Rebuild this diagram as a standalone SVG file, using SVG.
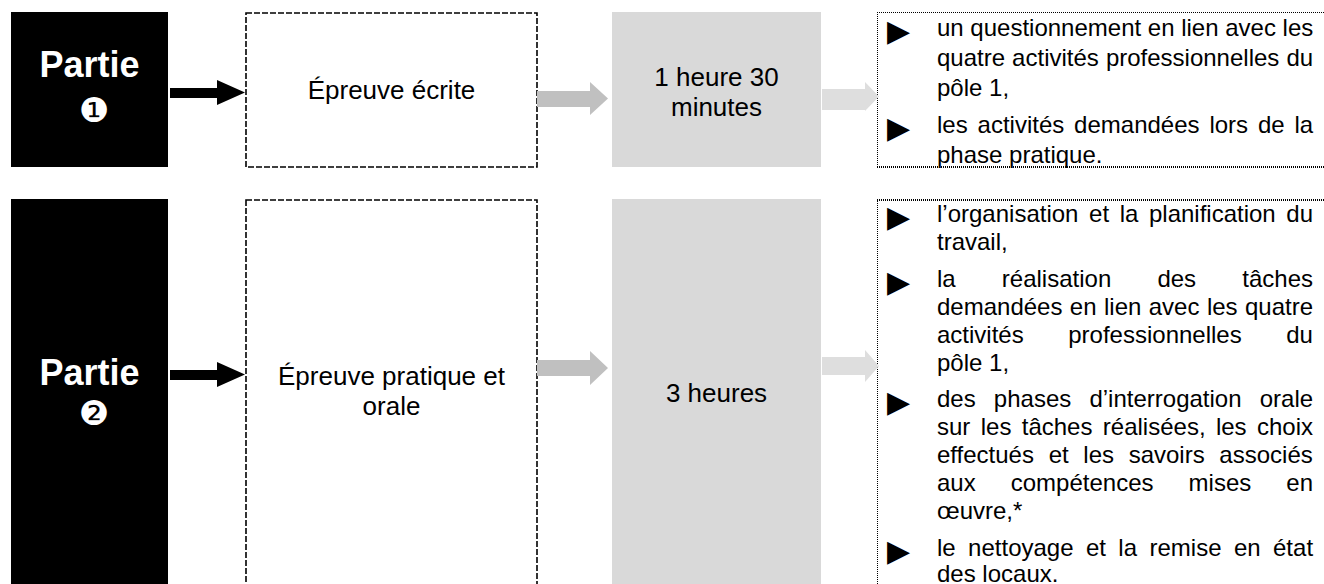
<svg xmlns="http://www.w3.org/2000/svg" width="1324" height="584" viewBox="0 0 1324 584">
<defs>
<style>
.bg{fill:#ffffff}
.part{fill:#000000}
.plabel{font-family:"Liberation Sans",Arial,sans-serif;font-weight:bold;font-size:36px;fill:#ffffff;text-anchor:middle}
.num{font-family:"DejaVu Sans",sans-serif;font-size:34px;fill:#ffffff;text-anchor:middle}
.dash{fill:#ffffff;stroke:#000000;stroke-width:1.6;stroke-dasharray:6 2}
.gray{fill:#d9d9d9}
.mid{font-family:"Liberation Sans",Arial,sans-serif;font-size:26px;fill:#000000;text-anchor:middle}
.txt{font-family:"Liberation Sans",Arial,sans-serif;font-size:24px;fill:#000000}
.bul{font-family:"DejaVu Sans",sans-serif;font-size:30px;fill:#000000}
.dotthin{stroke:#000000;stroke-width:1;stroke-dasharray:1 1;fill:none}
.dotthick{stroke:#000000;stroke-width:2;stroke-dasharray:1 1;fill:none}
.ablack{fill:#000000}
.agray{fill:#c0c0c0}
.alight{fill:#dedede}
</style>
</defs>
<rect class="bg" x="0" y="0" width="1324" height="584"/>

<g id="partie1">
<rect class="part" x="11" y="12" width="157" height="155"/>
<text class="plabel" x="89.5" y="77">Partie</text>
<text class="num" x="94" y="122">❶</text>
</g>
<g id="epreuve1">
<rect class="dash" x="246" y="13" width="291" height="154"/>
<text class="mid" x="391.5" y="99">Épreuve écrite</text>
</g>
<g id="duree1">
<rect class="gray" x="612" y="12" width="209" height="155"/>
<text class="mid" x="716.5" y="86">1 heure 30</text>
<text class="mid" x="716.5" y="116">minutes</text>
</g>
<g id="contenu1">
<line class="dotthin" x1="877.5" y1="12" x2="877.5" y2="167"/>
<line class="dotthin" x1="877" y1="12.5" x2="1324" y2="12.5"/>
<line class="dotthick" x1="877" y1="167" x2="1324" y2="167"/>
<text class="bul" x="887" y="41">▶</text>
<text class="txt" x="937" y="36">un questionnement en lien avec les</text>
<text class="txt" x="937" y="66" word-spacing="0.4">quatre activités professionnelles du</text>
<text class="txt" x="937" y="96">pôle 1,</text>
<text class="bul" x="887" y="138">▶</text>
<text class="txt" x="937" y="133" word-spacing="3.2">les activités demandées lors de la</text>
<text class="txt" x="937" y="163">phase pratique.</text>
</g>

<g id="partie2">
<rect class="part" x="11" y="199" width="157" height="400"/>
<text class="plabel" x="89.5" y="385">Partie</text>
<text class="num" x="94" y="425">❷</text>
</g>
<g id="epreuve2">
<rect class="dash" x="246" y="200" width="291" height="400"/>
<text class="mid" x="391.5" y="385">Épreuve pratique et</text>
<text class="mid" x="391.5" y="415">orale</text>
</g>
<g id="duree2">
<rect class="gray" x="612" y="199" width="209" height="400"/>
<text class="mid" x="716.5" y="402">3 heures</text>
</g>
<g id="contenu2">
<line class="dotthin" x1="877.5" y1="199" x2="877.5" y2="584"/>
<line class="dotthick" x1="877" y1="200" x2="1324" y2="200"/>
<text class="bul" x="887" y="227">▶</text>
<text class="txt" x="937" y="222" word-spacing="3.95">l’organisation et la planification du</text>
<text class="txt" x="937" y="250">travail,</text>
<text class="bul" x="887" y="291.5">▶</text>
<text class="txt" x="937" y="286.5" word-spacing="39.5">la réalisation des tâches</text>
<text class="txt" x="937" y="314.5" word-spacing="0.76">demandées en lien avec les quatre</text>
<text class="txt" x="937" y="342.5" word-spacing="37.9">activités professionnelles du</text>
<text class="txt" x="937" y="370.5">pôle 1,</text>
<text class="bul" x="887" y="412">▶</text>
<text class="txt" x="937" y="407" word-spacing="11.5">des phases d’interrogation orale</text>
<text class="txt" x="937" y="435" word-spacing="3.7">sur les tâches réalisées, les choix</text>
<text class="txt" x="937" y="463" word-spacing="8">effectués et les savoirs associés</text>
<text class="txt" x="937" y="491" word-spacing="28.4">aux compétences mises en</text>
<text class="txt" x="937" y="519">œuvre,*</text>
<text class="bul" x="887" y="560.5">▶</text>
<text class="txt" x="937" y="555.5" word-spacing="5.75">le nettoyage et la remise en état</text>
<text class="txt" x="937" y="582">des locaux.</text>
</g>

<g id="connecteurs">
<polygon class="ablack" points="170,88 217,88 217,80 245,92.5 217,105 217,98 170,98"/>
<polygon class="agray" points="537,91 590,91 590,82 608,98.5 590,115 590,107 537,107"/>
<polygon class="alight" points="822,89 865,89 865,82 879,96.5 865,111 865,110 822,110"/>
<polygon class="ablack" points="170,370 217,370 217,362 245,374.5 217,387 217,380 170,380"/>
<polygon class="agray" points="537,360 590,360 590,351 608,368 590,385 590,376 537,376"/>
<polygon class="alight" points="822,357 865,357 865,350 879,366 865,382 865,375 822,375"/>
</g>
</svg>
